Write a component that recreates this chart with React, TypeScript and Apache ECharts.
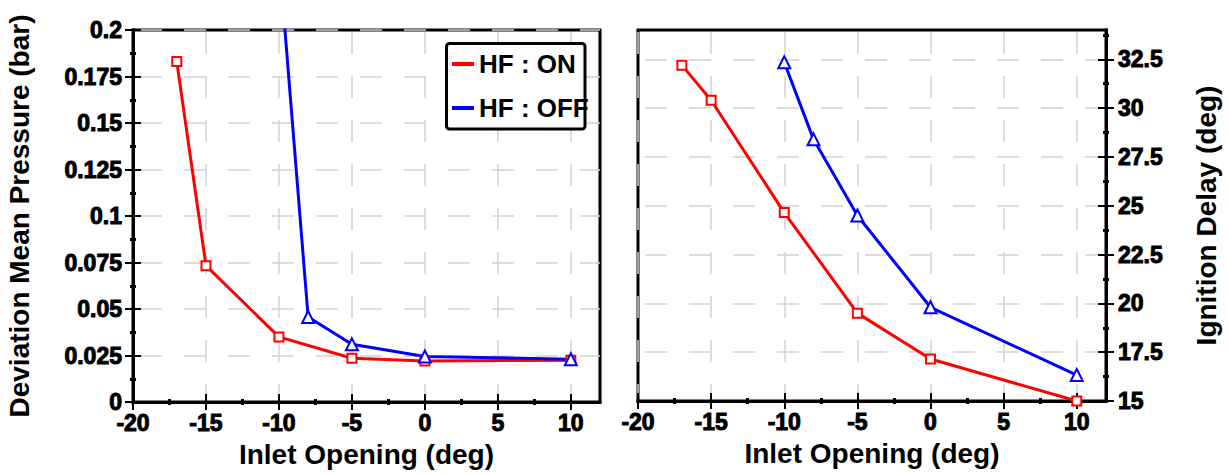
import React, { useEffect, useRef } from 'react';
import * as echarts from 'echarts';

const seriesNames = ['HF : ON', 'HF : OFF'];
const seriesColors = ['#ff0000', '#0000ff'];

const pressureOnX = [-17, -15, -10, -5, 0, 10];
const pressureOnY = [0.183, 0.0733, 0.035, 0.0235, 0.022, 0.0225];
const pressureOffX = [-10, -8, -5, 0, 10];
const pressureOffY = [0.24, 0.0457, 0.031, 0.0245, 0.023];

const delayOnX = [-17, -15, -10, -5, 0, 10];
const delayOnY = [32.2, 30.4, 24.65, 19.5, 17.15, 15.0];
const delayOffX = [-10, -8, -5, 0, 10];
const delayOffY = [32.35, 28.4, 24.5, 19.8, 16.33];

const xMajorTicks = [-20, -15, -10, -5, 0, 5, 10];
const xMinorTicks = [-17.5, -12.5, -7.5, -2.5, 2.5, 7.5];
const pressureMajorTicks = [0, 0.025, 0.05, 0.075, 0.1, 0.125, 0.15, 0.175, 0.2];
const pressureMinorTicks = [0.0125, 0.0375, 0.0625, 0.0875, 0.1125, 0.1375, 0.1625, 0.1875];
const delayMajorTicks = [15, 17.5, 20, 22.5, 25, 27.5, 30, 32.5];
const delayMinorTicks = [16.25, 18.75, 21.25, 23.75, 26.25, 28.75, 31.25, 33.75];

const xTitle = 'Inlet Opening (deg)';
const pressureTitle = 'Deviation Mean Pressure (bar)';
const delayTitle = 'Ignition Delay (deg)';

const FONT = 'Liberation Sans';

function zip(xs: number[], ys: number[]) {
  return xs.map((x, i) => [x, ys[i]]);
}

function axisGroup(
  gridIndex: number,
  position: string,
  min: number,
  max: number,
  interval: number,
  major: number[],
  minor: number[],
  main: any
) {
  const tickStyle = { color: '#000', width: 2 };
  const base: any = {
    type: 'value',
    gridIndex,
    position,
    min,
    max,
    interval,
    axisLine: { show: false, onZero: false },
    axisLabel: { show: false },
    splitLine: { show: false },
    axisTick: { show: false },
    z: 5,
  };
  return [
    {
      ...base,
      ...main,
      axisLine: { show: true, onZero: false, lineStyle: { color: '#000', width: 3, cap: 'square' } },
      axisTick: { show: true, customValues: major, inside: false, length: 8, lineStyle: tickStyle },
    },
    { ...base, axisTick: { show: true, customValues: major, inside: true, length: 8, lineStyle: tickStyle } },
    { ...base, axisTick: { show: true, customValues: minor, inside: false, length: 3, lineStyle: { color: '#000', width: 3 } } },
    { ...base, axisTick: { show: true, customValues: minor, inside: true, length: 3, lineStyle: { color: '#000', width: 3 } } },
  ];
}

const labelStyle = {
  color: '#000',
  fontSize: 23,
  fontWeight: 'bold',
  fontFamily: FONT,
  textBorderColor: '#000',
  textBorderWidth: 1,
};
const nameStyle = { color: '#000', fontSize: 28, fontWeight: 'bold', fontFamily: FONT };

export default function App() {
  const ref = useRef<HTMLDivElement>(null);

  useEffect(() => {
    if (!ref.current) return;
    const chart = echarts.init(ref.current, null, { renderer: 'svg' });

    const vSplit = { show: true, lineStyle: { color: '#d2d2d2', width: 1.5, type: [22, 22], dashOffset: 42 } };
    const hSplit = { show: true, lineStyle: { color: '#d2d2d2', width: 1.5, type: [22, 22], dashOffset: 37 } };

    const xMain = () => ({
      name: xTitle,
      nameLocation: 'middle',
      nameGap: 38,
      nameTextStyle: nameStyle,
      axisLabel: { show: true, margin: 9, showMaxLabel: false, ...labelStyle },
      splitLine: vSplit,
    });

    const xAxes = [
      ...axisGroup(0, 'bottom', -20, 12, 5, xMajorTicks, xMinorTicks, xMain()),
      ...axisGroup(1, 'bottom', -20, 12, 5, xMajorTicks, xMinorTicks, xMain()),
    ];
    const yAxes = [
      ...axisGroup(0, 'left', 0, 0.2, 0.025, pressureMajorTicks, pressureMinorTicks, {
        name: pressureTitle,
        nameLocation: 'middle',
        nameGap: 100,
        nameTextStyle: nameStyle,
        axisLabel: { show: true, margin: 11, ...labelStyle },
        splitLine: hSplit,
      }),
      ...axisGroup(1, 'right', 15, 34, 2.5, delayMajorTicks, delayMinorTicks, {
        name: delayTitle,
        nameLocation: 'middle',
        nameGap: 86,
        nameRotate: 90,
        nameTextStyle: nameStyle,
        axisLabel: { show: true, margin: 12, showMaxLabel: false, ...labelStyle },
        splitLine: hSplit,
      }),
    ];

    const lineSeries = (name: string, ci: number, data: number[][], axisIdx: number, symbol: string, size: number) => ({
      type: 'line',
      name,
      xAxisIndex: axisIdx,
      yAxisIndex: axisIdx,
      data,
      clip: true,
      symbol,
      symbolSize: size,
      color: seriesColors[ci],
      lineStyle: { color: seriesColors[ci], width: 3 },
      itemStyle: { color: seriesColors[ci], borderColor: seriesColors[ci], borderWidth: 1.5 },
      z: 6,
    });

    chart.setOption({
      animation: false,
      backgroundColor: '#fff',
      textStyle: { fontFamily: FONT, fontWeight: 'bold' },
      grid: [
        { left: 133, top: 30, width: 467, height: 372, show: true, borderColor: '#000', borderWidth: 3, backgroundColor: 'transparent' },
        { left: 638, top: 30, width: 468, height: 371, show: true, borderColor: '#000', borderWidth: 3, backgroundColor: 'transparent' },
      ],
      xAxis: xAxes,
      yAxis: yAxes,
      legend: {
        data: seriesNames.map((n, i) => ({ name: n, itemStyle: { color: seriesColors[i], borderWidth: 0 } })),
        orient: 'vertical',
        left: 452,
        top: 51,
        itemWidth: 22,
        itemHeight: 4,
        itemGap: 18,
        icon: 'rect',
        padding: 0,
        textStyle: { ...nameStyle, fontSize: 26, lineHeight: 26 },
        z: 10,
      },
      graphic: [
        {
          type: 'rect',
          x: 446.5,
          y: 43.5,
          shape: { x: 0, y: 0, width: 138.5, height: 85.5, r: 3 },
          style: { fill: '#fff', stroke: '#000', lineWidth: 3 },
          z: 8,
        },
      ],
      series: [
        lineSeries(seriesNames[0], 0, zip(pressureOnX, pressureOnY), 0, 'emptyRect', 9),
        lineSeries(seriesNames[1], 1, zip(pressureOffX, pressureOffY), 0, 'emptyTriangle', 12),
        lineSeries(seriesNames[0], 0, zip(delayOnX, delayOnY), 4, 'emptyRect', 9),
        lineSeries(seriesNames[1], 1, zip(delayOffX, delayOffY), 4, 'emptyTriangle', 12),
      ],
    });

    return () => chart.dispose();
  }, []);

  return <div ref={ref} style={{ position: 'fixed', left: 0, top: 0, width: 1228, height: 475 }} />;
}
